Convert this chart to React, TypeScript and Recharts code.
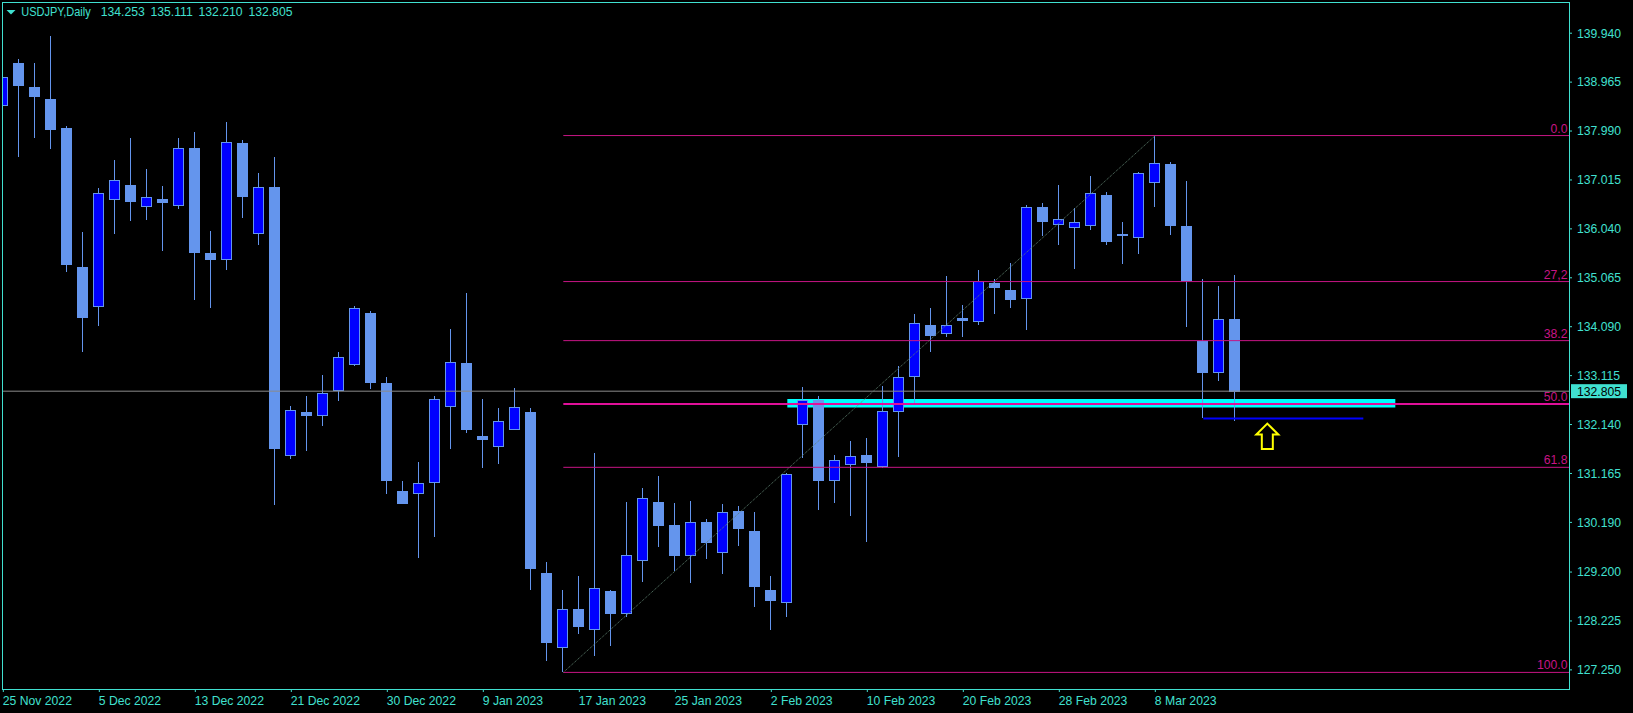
import {
  Bar,
  ComposedChart,
  ReferenceArea,
  ReferenceDot,
  ReferenceLine,
  XAxis,
  YAxis,
} from "recharts";

// USDJPY daily, 25 Nov 2022 .. 15 Mar 2023
const opens = [
  138.5, 139.34, 138.87, 138.63, 138.05, 135.28, 134.51, 136.64, 136.91, 136.5,
  136.63, 136.52, 137.66, 135.56, 135.43, 137.76, 135.95, 136.88, 131.54, 132.39,
  132.33, 132.83, 133.35, 134.36, 132.96, 130.81, 130.78, 131.0, 132.5, 133.37,
  131.91, 131.72, 132.05, 132.39, 129.18, 127.71, 128.46, 128.07, 128.82, 128.39,
  129.44, 130.59, 130.13, 129.54, 130.19, 129.6, 130.41, 130.01, 128.85, 128.61,
  132.16, 132.62, 131.04, 131.36, 131.53, 131.31, 132.4, 133.1, 134.12, 133.96,
  134.26, 134.21, 134.96, 134.82, 134.67, 136.48, 136.14, 136.07, 136.12, 136.72,
  135.93, 135.87, 136.98, 137.33, 136.1, 133.81, 133.18, 134.253,
];
const highs = [
  139.58, 139.42, 139.34, 139.89, 138.09, 135.98, 136.86, 137.41, 137.85, 137.23,
  136.89, 137.85, 137.97, 136.0, 138.17, 137.81, 137.16, 137.47, 132.51, 132.71,
  133.12, 133.59, 134.5, 134.4, 133.09, 131.01, 131.39, 132.71, 134.05, 134.76,
  132.65, 132.47, 132.87, 132.47, 129.4, 128.84, 129.13, 131.57, 128.85, 130.59,
  130.87, 131.11, 130.58, 130.61, 130.26, 130.56, 130.52, 130.39, 129.12, 131.18,
  132.89, 132.7, 131.53, 131.82, 131.87, 132.91, 133.3, 134.34, 134.46, 135.1,
  134.52, 135.22, 135.05, 135.36, 136.51, 136.56, 136.91, 136.45, 137.09, 136.78,
  136.18, 137.18, 137.9, 137.37, 136.99, 135.04, 134.9, 135.111,
];
const lows = [
  138.35, 137.47, 137.86, 137.64, 135.18, 133.59, 134.11, 135.93, 136.2, 136.21,
  135.59, 136.43, 134.62, 134.46, 135.23, 136.26, 135.72, 130.54, 131.46, 131.61,
  132.12, 132.61, 133.3, 132.85, 130.76, 130.58, 129.48, 129.9, 131.65, 131.97,
  131.28, 131.36, 132.03, 128.84, 127.43, 127.2, 127.97, 127.52, 127.73, 128.3,
  129.0, 129.7, 129.23, 128.99, 129.46, 129.16, 129.71, 128.5, 128.05, 128.3,
  131.48, 130.44, 130.57, 130.32, 129.79, 131.28, 131.5, 132.52, 133.58, 133.89,
  133.88, 134.12, 134.35, 134.46, 134.03, 135.9, 135.72, 135.24, 136.01, 135.72,
  135.34, 135.53, 136.47, 135.92, 134.09, 132.28, 133.0, 132.21,
];
const closes = [
  139.06, 138.9, 138.68, 138.04, 135.33, 134.29, 136.75, 137.02, 136.59, 136.68,
  136.57, 137.65, 135.57, 135.43, 137.78, 136.69, 136.88, 131.68, 132.42, 132.33,
  132.76, 133.48, 134.46, 132.99, 131.04, 130.58, 130.97, 132.64, 133.39, 132.05,
  131.85, 132.22, 132.48, 129.28, 127.8, 128.47, 128.12, 128.89, 128.38, 129.53,
  130.67, 130.13, 129.53, 130.19, 129.8, 130.4, 130.08, 128.92, 128.64, 131.15,
  132.62, 131.04, 131.43, 131.51, 131.4, 132.41, 133.09, 134.17, 133.92, 134.12,
  134.23, 135.01, 134.89, 134.65, 136.48, 136.2, 136.23, 136.18, 136.75, 135.79,
  135.91, 137.15, 137.35, 136.11, 135.03, 133.18, 134.24, 132.805,
];

const tickIndex = [0, 6, 12, 18, 24, 30, 36, 42, 48, 54, 60, 66, 72];
const tickLabels = [
  "25 Nov 2022", "5 Dec 2022", "13 Dec 2022", "21 Dec 2022", "30 Dec 2022",
  "9 Jan 2023", "17 Jan 2023", "25 Jan 2023", "2 Feb 2023", "10 Feb 2023",
  "20 Feb 2023", "28 Feb 2023", "8 Mar 2023",
];
const priceTicks = [
  139.94, 138.965, 137.99, 137.015, 136.04, 135.065, 134.09, 133.115, 132.14,
  131.165, 130.19, 129.2, 128.225, 127.25,
];

// fibonacci drawn from the 17 Jan low to the 8 Mar high
const fibLow = 127.2;
const fibHigh = 137.9;
const fibFrom = 35;
const fibTo = 72;
const fibLevels = [0, 27.2, 38.2, 50, 61.8, 100];
const fibLabels = ["0.0", "27,2", "38.2", "50.0", "61.8", "100.0"];

const lastPrice = 132.805;
const zoneFrom = 49;
const zoneTo = 87;
const zoneLow = 132.479;
const zoneHigh = 132.649;
const supportFrom = 75;
const supportTo = 85;
const supportPrice = 132.258;
const arrowAt = 79;
const arrowPrice = 131.91;

const xMax = 97.855;
const AXIS = "#40E0D0";
const FIB = "#C71585";
const UP = "#0000FF";
const WICK = "#6495ED";
const FONT = "'Liberation Sans', Arial, sans-serif";
const FS = 12.2;

const data = opens.map((o, i) => ({
  i,
  open: o,
  high: highs[i],
  low: lows[i],
  close: closes[i],
}));

const Candle = (props: any) => {
  const { x, y, width, height, payload } = props;
  const { open, close, high, low } = payload;
  const k = height / (high - low);
  const yOf = (p: number) => y + (high - p) * k;
  const cx = Math.floor(x + width / 2) + 0.5;
  const bull = close >= open;
  const top = Math.round(yOf(Math.max(open, close))) + 0.5;
  const bot = Math.max(Math.round(yOf(Math.min(open, close))) + 0.5, top + 1);
  return (
    <g shapeRendering="crispEdges">
      <line x1={cx} x2={cx} y1={y} y2={y + height} stroke={WICK} strokeWidth={1} />
      <rect
        x={cx - 5}
        y={top}
        width={10}
        height={bot - top}
        fill={bull ? UP : WICK}
        stroke={WICK}
        strokeWidth={1}
      />
    </g>
  );
};

const DateTick = (props: any) => {
  const { x, y, payload } = props;
  const k = tickIndex.indexOf(payload.value);
  return (
    <text x={x - 0.5} y={y + 11} fill={AXIS} fontSize={FS} fontFamily={FONT} textAnchor="start">
      {tickLabels[k]}
    </text>
  );
};

const fibLabel = (text: string) => (p: any) => {
  const vb = p.viewBox;
  return (
    <text
      x={vb.x + vb.width - 1.5}
      y={vb.y - 3}
      fill={FIB}
      fontSize={FS}
      fontFamily={FONT}
      textAnchor="end"
    >
      {text}
    </text>
  );
};

const priceBox = (p: any) => {
  const vb = p.viewBox;
  const bx = vb.x + vb.width + 2;
  return (
    <g>
      <rect x={bx} y={vb.y - 7} width={56} height={14} fill={AXIS} />
      <text x={bx + 6} y={vb.y + 4.5} fill="#000" fontSize={FS} fontFamily={FONT}>
        {lastPrice.toFixed(3)}
      </text>
    </g>
  );
};

const UpArrow = (p: any) => {
  const { cx, cy } = p;
  const d = `M${cx},${cy - 12.5} L${cx + 11},${cy - 1.5} L${cx + 5.5},${cy - 1.5} L${cx + 5.5},${cy + 13} L${cx - 5.5},${cy + 13} L${cx - 5.5},${cy - 1.5} L${cx - 11},${cy - 1.5} Z`;
  return <path d={d} fill="none" stroke="#FFFF00" strokeWidth={2} strokeLinejoin="miter" />;
};

export default function App() {
  const last = data[data.length - 1];
  const title = [last.open, last.high, last.low, last.close].map((v) => v.toFixed(3)).join(" ");
  return (
    <div style={{ position: "relative", width: 1633, height: 713, background: "#000" }}>
      <style>{"body{margin:0;background:#000}"}</style>
      <ComposedChart
        width={1633}
        height={713}
        data={data}
        margin={{ top: 3, left: 3, right: 0, bottom: 0 }}
      >
        <XAxis
          dataKey="i"
          type="number"
          domain={[-0.02, xMax]}
          allowDataOverflow
          ticks={tickIndex}
          interval={0}
          height={24}
          axisLine={false}
          tickLine={{ stroke: AXIS }}
          tickSize={3}
          tickMargin={2}
          tick={<DateTick />}
        />
        <YAxis
          orientation="right"
          width={64}
          domain={[126.869, 140.542]}
          allowDataOverflow
          ticks={priceTicks}
          interval={0}
          axisLine={false}
          tickLine={{ stroke: AXIS }}
          tickSize={3}
          tickMargin={5}
          tick={{ fill: AXIS, fontSize: FS, fontFamily: FONT }}
          tickFormatter={(v: number) => v.toFixed(3)}
        />
        <ReferenceArea
          x1={zoneFrom}
          x2={zoneTo}
          y1={zoneLow}
          y2={zoneHigh}
          fill="#00FFFF"
          fillOpacity={1}
          stroke="none"
          ifOverflow="visible"
        />
        <Bar
          dataKey={(d: any) => [d.low, d.high]}
          barSize={11}
          shape={<Candle />}
          isAnimationActive={false}
        />
        <ReferenceLine
          y={lastPrice}
          stroke="#8c8c8c"
          strokeWidth={1}
          label={priceBox}
          ifOverflow="visible"
        />
        {fibLevels.map((lv, k) => {
          const py = fibHigh - (lv / 100) * (fibHigh - fibLow);
          return (
            <ReferenceLine
              key={lv}
              segment={[
                { x: fibFrom, y: py },
                { x: xMax, y: py },
              ]}
              stroke={lv === 50 ? "#E0109A" : FIB}
              strokeWidth={lv === 50 ? 2 : 1}
              label={fibLabel(fibLabels[k])}
              ifOverflow="visible"
            />
          );
        })}
        <ReferenceLine
          segment={[
            { x: fibFrom, y: fibLow },
            { x: fibTo, y: fibHigh },
          ]}
          stroke="#5f8070"
          strokeDasharray="1 1"
          ifOverflow="visible"
        />
        <ReferenceLine
          segment={[
            { x: supportFrom, y: supportPrice },
            { x: supportTo, y: supportPrice },
          ]}
          stroke="#0000FF"
          strokeWidth={2}
          ifOverflow="visible"
        />
        <ReferenceDot
          x={arrowAt}
          y={arrowPrice}
          r={0}
          shape={<UpArrow />}
          ifOverflow="visible"
        />
      </ComposedChart>
      <svg
        width={1633}
        height={713}
        style={{ position: "absolute", left: 0, top: 0, pointerEvents: "none" }}
      >
        <rect x={2.5} y={2.5} width={1567} height={687} fill="none" stroke={AXIS} strokeWidth={1} />
        <polygon points="6.5,10 15.5,10 11,14.5" fill={AXIS} />
        <text x={21.3} y={16} fill={AXIS} fontSize={FS} fontFamily={FONT} textLength={69.4} lengthAdjust="spacingAndGlyphs">
          USDJPY,Daily
        </text>
        <text x={100.7} y={16} fill={AXIS} fontSize={FS} fontFamily={FONT} wordSpacing={2.4}>
          {title}
        </text>
      </svg>
    </div>
  );
}
